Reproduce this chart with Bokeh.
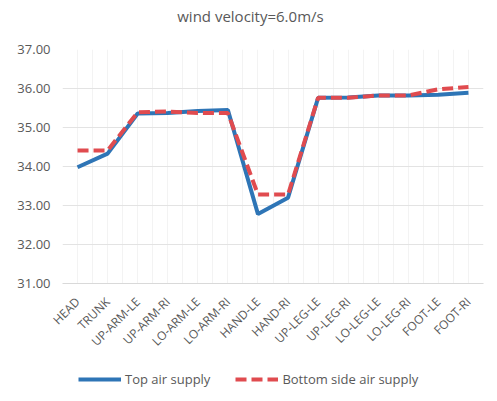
from bokeh.plotting import figure
from bokeh.layouts import column
from bokeh.models import Legend, LegendItem, FixedTicker, CustomJSTickFormatter, Label
from bokeh.embed import file_html
from bokeh.resources import INLINE
import math

# data
parts = ["HEAD", "TRUNK", "UP-ARM-LE", "UP-ARM-RI", "LO-ARM-LE", "LO-ARM-RI",
         "HAND-LE", "HAND-RI", "UP-LEG-LE", "UP-LEG-RI", "LO-LEG-LE", "LO-LEG-RI",
         "FOOT-LE", "FOOT-RI"]
top_supply = [33.98, 34.33, 35.36, 35.37, 35.42, 35.45, 32.78, 33.20,
              35.76, 35.77, 35.82, 35.82, 35.84, 35.89]
bottom_supply = [34.41, 34.41, 35.39, 35.41, 35.37, 35.37, 33.28, 33.28,
                 35.76, 35.76, 35.82, 35.82, 35.98, 36.04]
y_ticks = [31, 32, 33, 34, 35, 36, 37]
title = "wind velocity=6.0m/s"

xs = list(range(len(parts)))
BLUE = "#2E75B6"
RED = "#E04B4F"
GREY = "#595959"
FONT = "Open Sans"
x_range = (-0.5, len(parts) - 0.5)

# title strip
tf = figure(width=489, height=30, output_backend="svg", toolbar_location=None,
            x_range=x_range, y_range=(0, 1),
            x_axis_type=None, y_axis_type=None, min_border=0)
tf.outline_line_color = None
tf.grid.visible = False
tf.add_layout(Label(x=5.75, y=0.5, text=title, text_align="center",
                    text_baseline="middle", text_font=FONT,
                    text_font_size="15px", text_color=GREY))

# main chart
p = figure(width=489, height=328, output_backend="svg", toolbar_location=None,
           x_range=x_range, y_range=(31, 37),
           min_border_left=62, min_border_right=6, min_border_top=19,
           min_border_bottom=73)
p.outline_line_color = None

p.yaxis.ticker = FixedTicker(ticks=y_ticks)
p.yaxis.formatter = CustomJSTickFormatter(code="return tick.toFixed(2);")
p.yaxis.axis_line_color = None
p.yaxis.major_tick_out = 0
p.yaxis.major_tick_in = 0
p.yaxis.minor_tick_line_color = None
p.yaxis.major_label_text_font = FONT
p.yaxis.major_label_text_font_size = "13px"
p.yaxis.major_label_text_color = GREY
p.yaxis.major_label_standoff = 12

p.xaxis.ticker = FixedTicker(ticks=xs)
p.xaxis.major_label_overrides = {i: name for i, name in enumerate(parts)}
p.xaxis.major_label_orientation = math.pi / 4
p.xaxis.axis_line_color = "#d9d9d9"
p.xaxis.major_tick_out = 0
p.xaxis.major_tick_in = 0
p.xaxis.minor_tick_line_color = None
p.xaxis.major_label_text_font = FONT
p.xaxis.major_label_text_font_size = "12px"
p.xaxis.major_label_text_color = GREY
p.xaxis.major_label_standoff = 16

p.ygrid.grid_line_color = "#e3e3e3"
p.xgrid.ticker = FixedTicker(ticks=[i * 0.5 - 0.5 for i in range(2 * len(parts) + 1)])
p.xgrid.grid_line_color = "#f3f3f3"

p.line(xs, top_supply, line_color=BLUE, line_width=4)
p.line(xs, bottom_supply, line_color=RED, line_width=4, line_dash="11 5")

# legend strip under the chart (same series, drawn out of view)
lf = figure(width=489, height=35, output_backend="svg", toolbar_location=None,
            x_range=x_range, y_range=(0, 1),
            x_axis_type=None, y_axis_type=None, min_border=0)
lf.outline_line_color = None
lf.grid.visible = False
l_top = lf.line(xs, top_supply, line_color=BLUE, line_width=4)
l_bot = lf.line(xs, bottom_supply, line_color=RED, line_width=4, line_dash="11 5")

legend = Legend(items=[LegendItem(label="Top air supply", renderers=[l_top]),
                       LegendItem(label="Bottom side air supply", renderers=[l_bot])],
                orientation="horizontal", location=(16, 5),
                glyph_width=43, glyph_height=10, label_standoff=4, spacing=25,
                padding=0, margin=0, border_line_color=None,
                background_fill_alpha=0,
                label_text_font=FONT, label_text_font_size="13px",
                label_text_color=GREY)
lf.add_layout(legend, "center")

open("out.html", "w").write(file_html(column(tf, p, lf), INLINE))
